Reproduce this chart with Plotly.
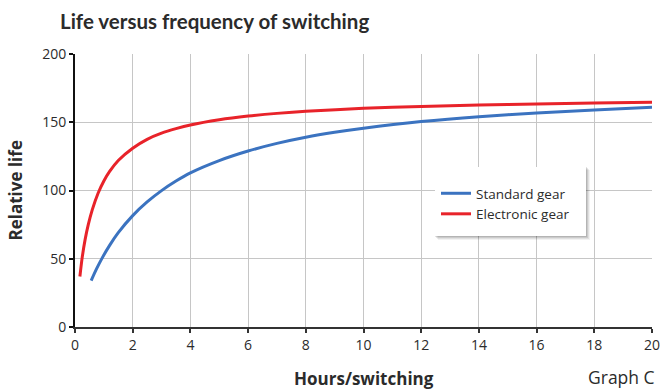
import plotly.graph_objects as go

# Relative lamp life against burning hours per switching cycle
std_hours = [0.56, 0.75, 0.93, 1.2, 1.5, 2.0, 2.5, 3.0, 3.5, 4.0, 5.0, 6.0, 7.0, 8.0, 9.0,
             10.0, 12.0, 14.0, 16.0, 18.0, 20.0]
std_life = [34.0, 42.7, 50.1, 59.8, 69.1, 81.6, 91.6, 99.9, 106.9, 112.9, 121.9, 128.9, 134.5,
            139.0, 142.6, 145.6, 150.5, 154.1, 156.8, 159.0, 160.9]

elec_hours = [0.17, 0.25, 0.35, 0.46, 0.6, 0.8, 1.0, 1.2, 1.5, 2.0, 2.5, 3.0, 3.5, 4.0, 5.0,
              6.0, 7.0, 8.0, 10.0, 12.0, 14.0, 16.0, 18.0, 20.0]
elec_life = [37.0, 51.0, 64.0, 75.0, 86.0, 98.0, 107.0, 114.0, 122.0, 131.0, 137.5, 142.0,
             145.3, 148.0, 151.8, 154.5, 156.5, 158.0, 160.2, 161.6, 162.6, 163.4, 164.1, 164.6]

x_ticks = list(range(0, 21, 2))
y_ticks = [0, 50, 100, 150, 200]

FONT = "Open Sans"
TXT = "#2b2b2b"
BLUE = "#3b73c0"
RED = "#e8232a"
GRID = "#c6c6c6"

fig = go.Figure()
fig.add_trace(go.Scatter(x=std_hours, y=std_life, mode="lines", name="Standard gear",
                         line=dict(color=BLUE, width=3, shape="spline", smoothing=0.7)))
fig.add_trace(go.Scatter(x=elec_hours, y=elec_life, mode="lines", name="Electronic gear",
                         line=dict(color=RED, width=3, shape="spline", smoothing=0.7)))

# legend panel with a soft drop shadow
PW, PH = 577, 273
lx0, lx1 = (435 - 75) / PW, (586 - 75) / PW
ly0, ly1 = (327 - 236) / PH, (327 - 167) / PH
shapes = []
for i, op in enumerate([0.05, 0.07, 0.09, 0.11]):
    d = 4 - i
    shapes.append(dict(type="rect", xref="paper", yref="paper",
                       x0=lx0 + (d - 1) / PW, x1=lx1 + d / PW,
                       y0=ly0 - d / PH, y1=ly1 - (d - 1) / PH,
                       line=dict(width=0), fillcolor=f"rgba(0,0,0,{op})", layer="above"))
shapes.append(dict(type="rect", xref="paper", yref="paper", x0=lx0, x1=lx1, y0=ly0, y1=ly1,
                   line=dict(width=0), fillcolor="white", layer="above"))

fig.update_layout(
    width=661, height=389,
    margin=dict(l=75, r=9, t=54, b=62, autoexpand=False),
    paper_bgcolor="white", plot_bgcolor="white",
    font=dict(family=FONT, color=TXT, size=14),
    title=dict(text="<b>Life versus frequency of switching</b>", x=60 / 661, xanchor="left",
               y=1 - 22 / 389, yanchor="middle", font=dict(family="Lato", size=20.5, color=TXT)),
    showlegend=True,
    legend=dict(x=(436 - 75) / PW, y=(327 - 178) / PH, xanchor="left", yanchor="top",
                bgcolor="rgba(0,0,0,0)", borderwidth=0, font=dict(size=13.5, color=TXT),
                itemwidth=30, tracegroupgap=0),
    shapes=shapes,
    xaxis=dict(range=[0, 20], tickvals=x_ticks, showgrid=True, gridcolor=GRID, gridwidth=1.3,
               zeroline=False, showline=True, linecolor="#333", linewidth=2,
               ticks="outside", ticklen=4, tickcolor="#333", tickwidth=2,
               tickfont=dict(size=14, color=TXT), fixedrange=True),
    yaxis=dict(range=[0, 200], tickvals=y_ticks, showgrid=True, gridcolor=GRID, gridwidth=1.3,
               zeroline=False, showline=True, linecolor="#111", linewidth=2,
               ticks="outside", ticklen=4, tickcolor="#111", tickwidth=2,
               tickfont=dict(size=14, color=TXT), fixedrange=True),
    # companion axes so each tick mark crosses the axis line
    xaxis2=dict(overlaying="x", matches="x", anchor="y", side="bottom", range=[0, 20],
                tickvals=x_ticks, ticks="inside", ticklen=4, tickcolor="#333", tickwidth=2,
                showticklabels=False, showgrid=False, zeroline=False, showline=False),
    yaxis2=dict(overlaying="y", matches="y", anchor="x", side="left", range=[0, 200],
                tickvals=y_ticks, ticks="inside", ticklen=4, tickcolor="#111", tickwidth=2,
                showticklabels=False, showgrid=False, zeroline=False, showline=False),
    annotations=[
        dict(text="<b>Hours/switching</b>", xref="paper", yref="paper", x=(364 - 75) / PW,
             y=-51 / PH, xanchor="center", yanchor="middle", showarrow=False,
             font=dict(size=17, color=TXT)),
        dict(text="<b>Relative life</b>", xref="paper", yref="paper", x=-60 / PW, y=0.5,
             xanchor="center", yanchor="middle", textangle=-90, showarrow=False,
             font=dict(size=17, color=TXT)),
        dict(text="Graph C", xref="paper", yref="paper", x=1 + 5 / PW, y=-50 / PH,
             xanchor="right", yanchor="middle", showarrow=False, font=dict(size=17.5, color=TXT)),
    ],
)

fig.write_html("out.html")
